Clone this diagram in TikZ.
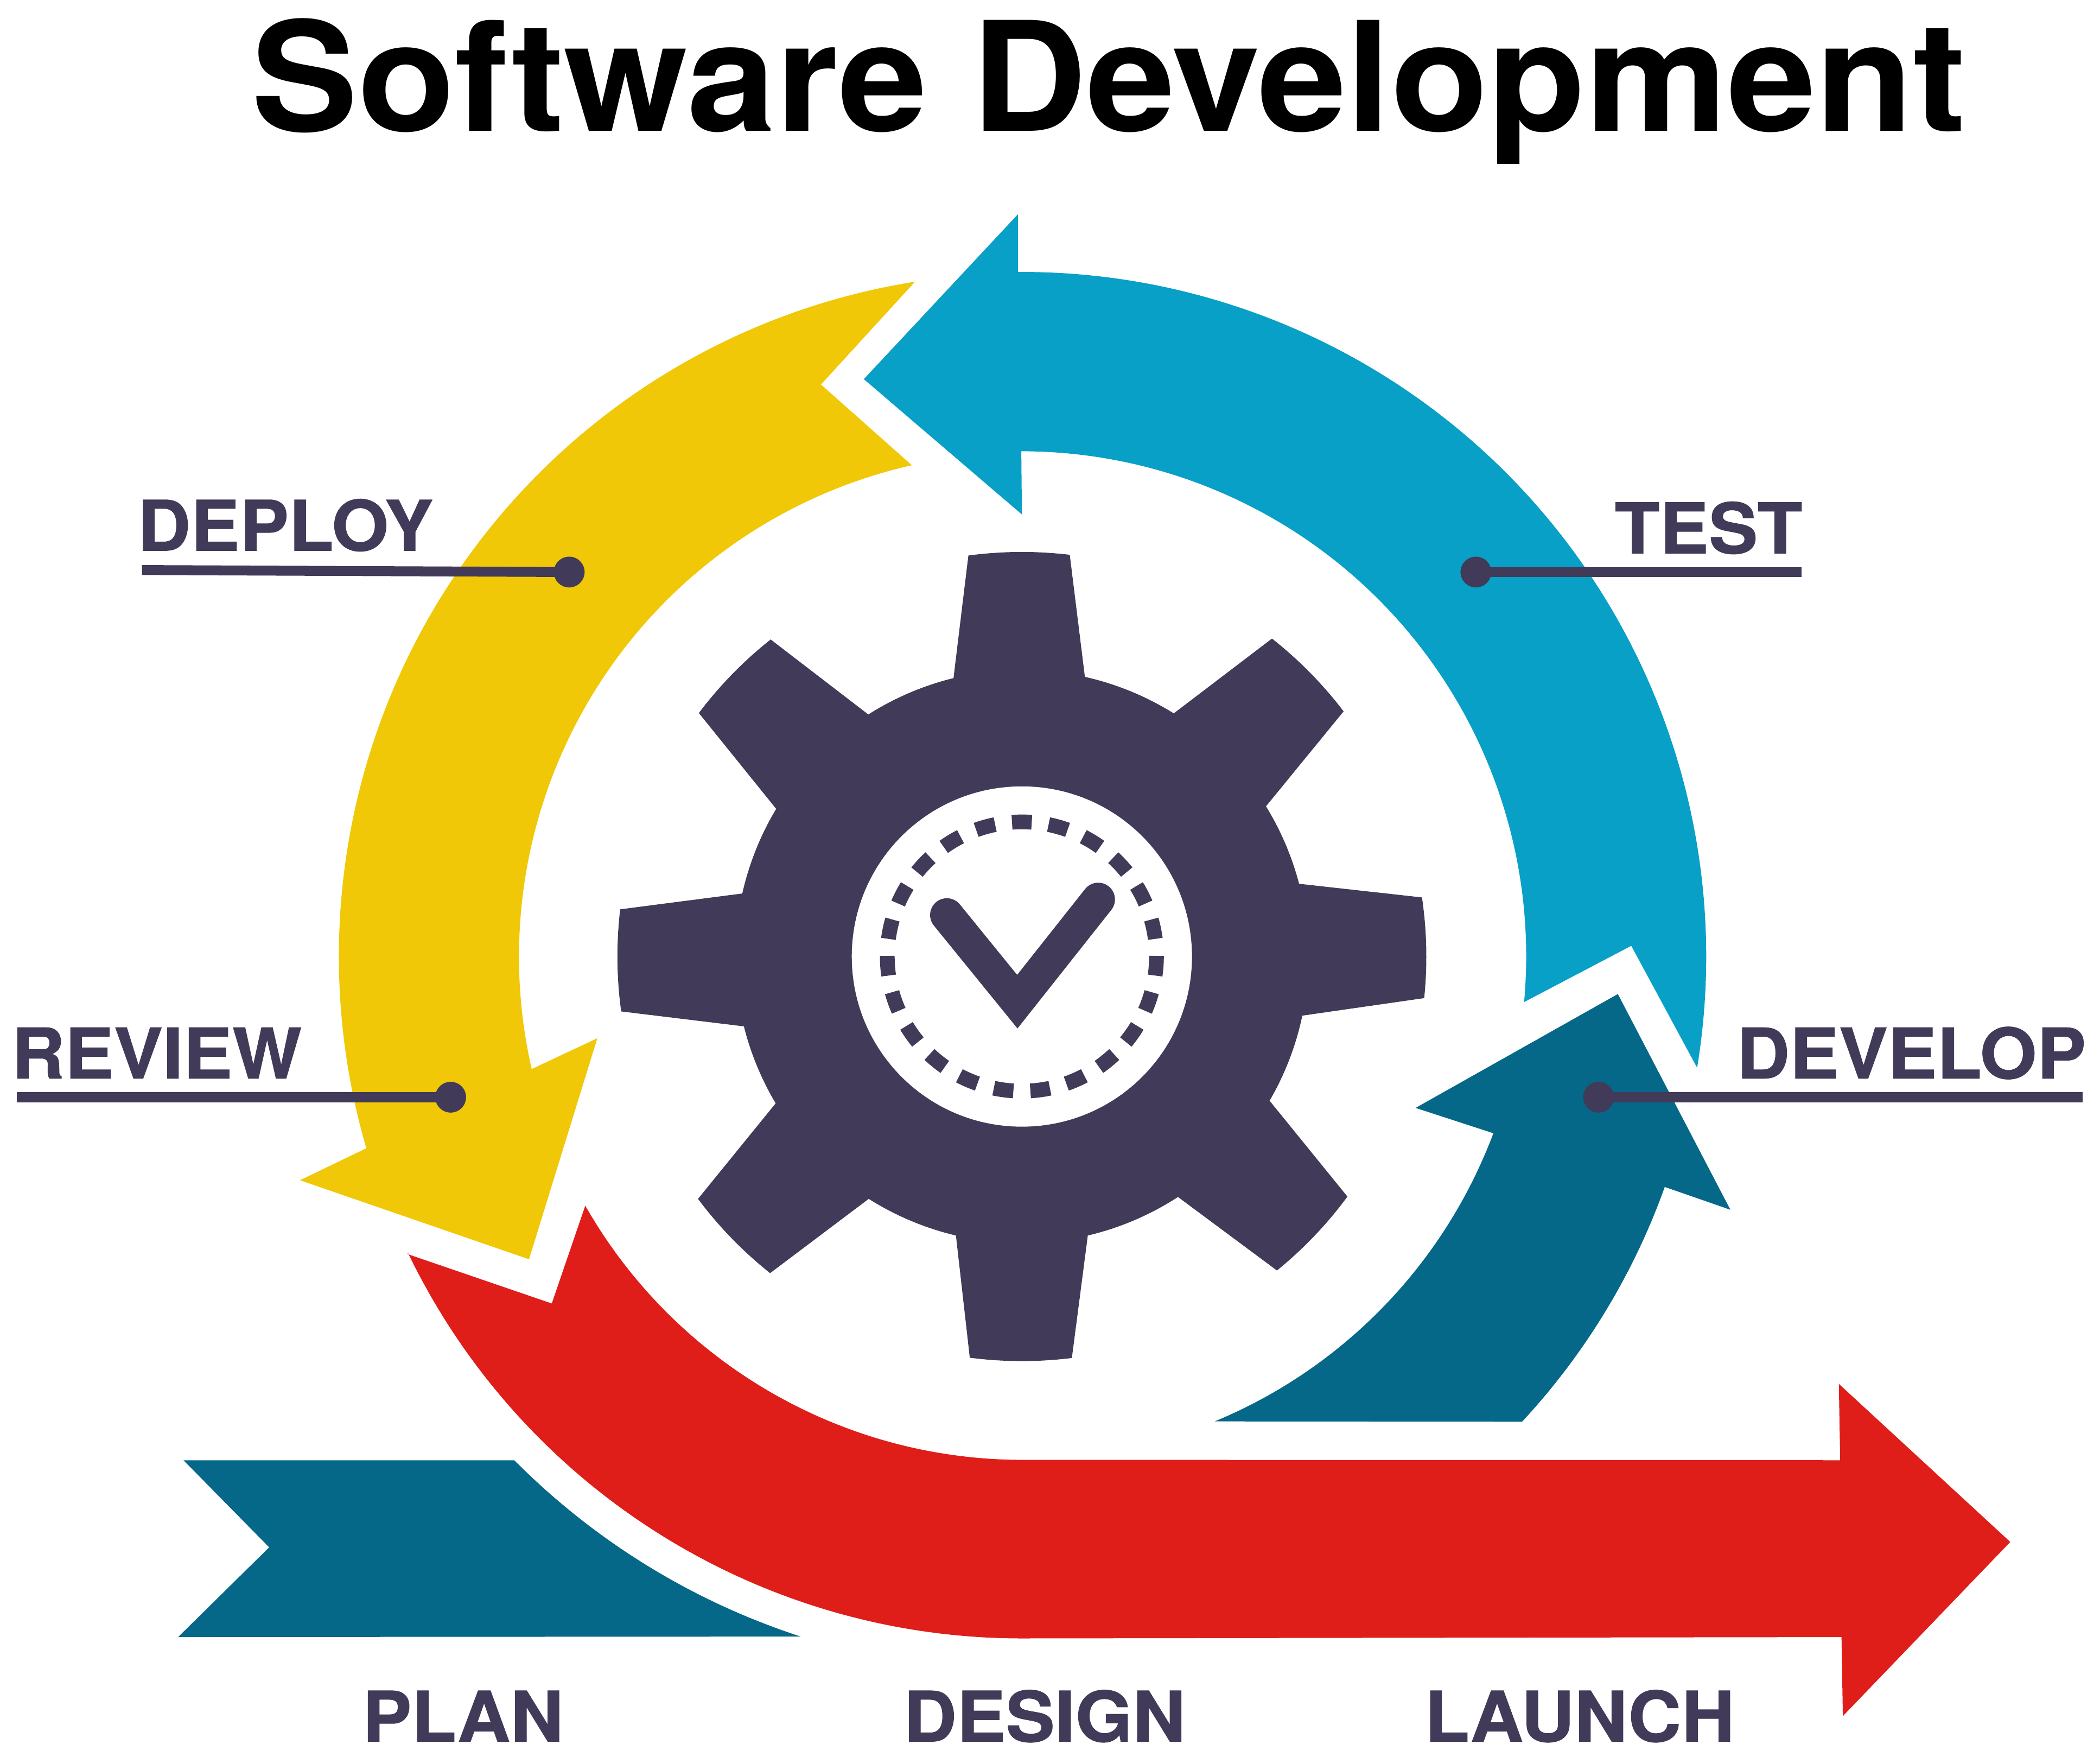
\documentclass[tikz,border=0pt]{standalone}
\usepackage{fontspec}
\usetikzlibrary{calc}
\newfontfamily\titlefont{TeX Gyre Heros}[FakeStretch=1.047]
\newfontfamily\labelfont{TeX Gyre Heros}[FakeStretch=1.055,BoldFeatures={FakeBold=0.8}]
\definecolor{testblue}{HTML}{08A0C6}
\definecolor{deployyellow}{HTML}{F0C808}
\definecolor{launchred}{HTML}{DF1E1A}
\definecolor{stepteal}{HTML}{066888}
\definecolor{gearpurple}{HTML}{413A58}
\tikzstyle{stagelabel} = [text=gearpurple,inner sep=0,anchor=base west,font=\labelfont\bfseries\fontsize{14.8}{14.8}\selectfont]
\tikzstyle{dot} = [circle,fill=gearpurple,inner sep=0,minimum size=0.23cm]
\tikzstyle{leader} = [gearpurple,line width=0.074cm]
\begin{document}
\begin{tikzpicture}[x=0.01cm,y=-0.01cm]
	\useasboundingbox (0,0) rectangle (1568,1311.5);
	\coordinate (c) at (763,714);
	
	\node[inner sep=0,anchor=base west,font=\titlefont\bfseries\fontsize{32.3}{32.3}\selectfont] (title) at (187,98) {Software Development};
	
	\fill[testblue] (760,160) -- (760,203) -- ($(c)+(-90:511)$) arc (-90:9.35:511) -- (1218,706) -- (1138,748) arc (5.2:-90:377) -- (763,384) -- (645,283) -- cycle;
	\fill[deployyellow] ($(c)+(261:510)$) arc (261:163.7:510) -- (224,881) -- (395,940) -- (446,775) -- (397,798) arc (167.1:257.3:376) -- (613,287) -- cycle;
	\fill[launchred] (304,936) -- (412,973) -- (437,900) arc (150.3:90:376) -- (1374,1090) -- (1373,1033) -- (1501,1151) -- (1376,1281) -- (1375,1222) -- ($(c)+(90:509)$) arc (90:154.2:509) -- cycle;
	\fill[stepteal] (1208,742) -- (1292,903) -- (1243,886) arc (19.7:42.9:510) -- (907,1061) arc (67.5:20.6:376) -- (1057,827) -- cycle;
	\fill[stepteal] (137,1090) -- (384,1090) arc (135.2:108:534) -- (133,1222) -- (201,1155) -- cycle;
	
	\fill[gearpurple] ($(c)+(-103.8:214)$)
		\foreach \ta/\tb/\ba/\bb in {-97.6/-83.2/-77.3/-58,-51.8/-37.3/-31.6/-14.7,-8.4/5.9/11.9/30.2,36.4/50.9/57/76.7,82.9/97.4/103.3/122.3,128.5/143.2/149.2/165.9,172.2/186.7/192.7/211,217/231.6/237.6/256.2} {
			-- ($(c)+(\ta:302)$) arc (\ta:\tb:302)
			-- ($(c)+(\ba:214)$) arc (\ba:\bb:214)
		} -- cycle;
	\fill[white] (c) circle (127);
	\foreach \i in {0,...,22}
		\draw[gearpurple,line width=0.11cm] ($(c)+(-90+\i*15.652-4.2:100.5)$) arc (-90+\i*15.652-4.2:-90+\i*15.652+4.2:100.5);
	\draw[gearpurple,line width=0.25cm,line cap=round,miter limit=10] (707,683) -- (759.6,747.7) -- (820,671.4);
	
	\node[stagelabel] (deploy) at (102,411) {DEPLOY};
	\node[stagelabel] (review) at (8,805) {REVIEW};
	\node[stagelabel] (test) at (1205,413) {TEST};
	\node[stagelabel] (develop) at (1296,805) {DEVELOP};
	\node[stagelabel] (plan) at (270,1300) {PLAN};
	\node[stagelabel] (design) at (674,1300) {DESIGN};
	\node[stagelabel] (launch) at (1063,1300) {LAUNCH};
	
	\node[dot] (deploydot) at (425,427) {};
	\node[dot] (reviewdot) at (336.5,819) {};
	\node[dot] (testdot) at (1102,427) {};
	\node[dot] (developdot) at (1193.6,819) {};
	\coordinate (deployend) at (106,425.5);
	\coordinate (reviewend) at (12.5,819);
	\coordinate (testend) at (1345,427);
	\coordinate (developend) at (1555,819);
	
	\draw[leader] (deployend) -- (deploydot.center);
	\draw[leader] (reviewend) -- (reviewdot.center);
	\draw[leader] (testend) -- (testdot.center);
	\draw[leader] (developend) -- (developdot.center);
\end{tikzpicture}
\end{document}
